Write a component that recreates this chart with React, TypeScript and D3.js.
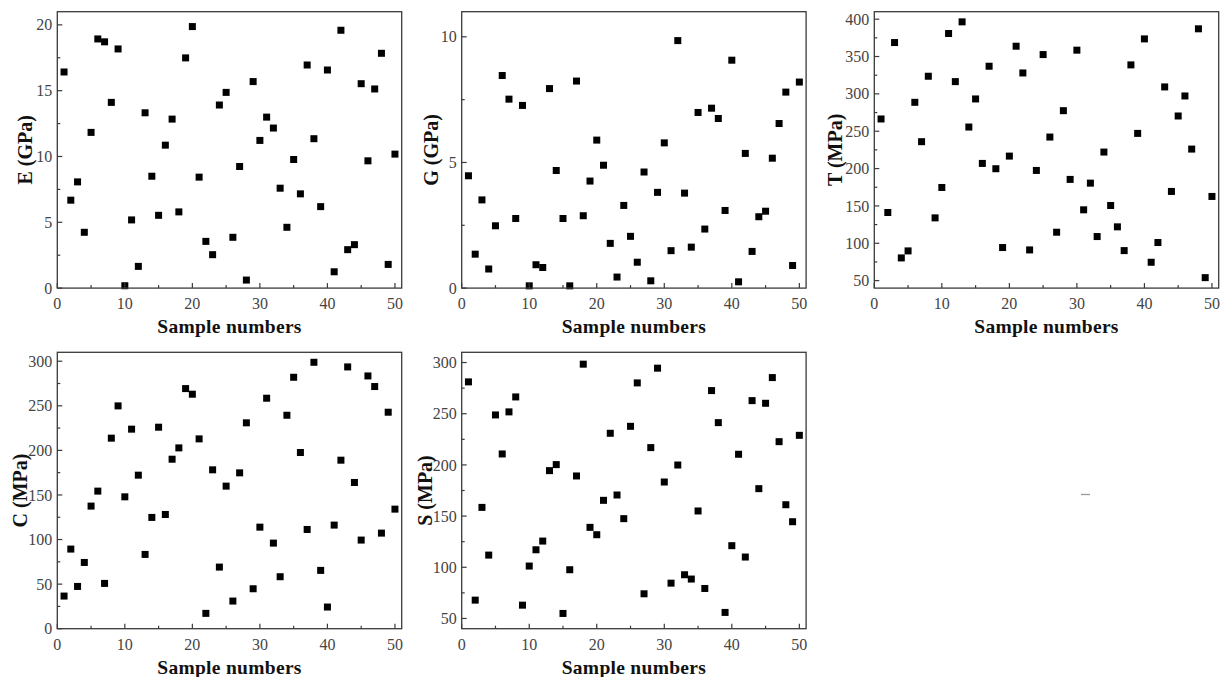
import React from 'react';
import * as d3 from 'd3';

const sampleNumbers = [1,2,3,4,5,6,7,8,9,10,11,12,13,14,15,16,17,18,19,20,21,22,23,24,25,26,27,28,29,30,31,32,33,34,35,36,37,38,39,40,41,42,43,44,45,46,47,48,49,50];

const E_GPa = [16.42,6.68,8.07,4.24,11.83,18.93,18.71,14.11,18.17,0.18,5.18,1.65,13.32,8.5,5.53,10.86,12.84,5.79,17.49,19.87,8.43,3.55,2.54,13.91,14.87,3.86,9.24,0.61,15.69,11.22,12.99,12.16,7.59,4.62,9.77,7.16,16.95,11.35,6.19,16.57,1.24,19.59,2.92,3.3,15.53,9.67,15.13,17.84,1.8,10.18];

const G_GPa = [4.47,1.35,3.51,0.76,2.48,8.46,7.52,2.77,7.27,0.09,0.93,0.82,7.94,4.68,2.77,0.09,8.24,2.88,4.26,5.89,4.89,1.78,0.44,3.29,2.06,1.03,4.62,0.29,3.81,5.78,1.49,9.85,3.78,1.63,6.99,2.35,7.16,6.75,3.09,9.07,0.25,5.36,1.46,2.84,3.06,5.17,6.55,7.8,0.9,8.2];

const T_MPa = [266.4,141.2,368.7,80.4,89.8,288.7,236.0,323.6,134.0,174.7,380.8,316.4,396.4,255.6,293.2,206.9,337.0,199.8,94.3,216.7,363.8,328.0,91.1,197.5,352.6,242.2,114.8,277.5,185.5,358.5,144.8,180.5,109.0,222.1,150.6,122.0,90.2,338.8,247.1,373.6,74.6,101.0,309.3,169.4,270.4,297.2,226.1,387.1,54.0,162.7];

const C_MPa = [36.6,89.3,47.4,74.3,137.5,154.3,50.8,213.7,249.9,147.9,223.8,172.2,83.3,124.8,226.0,128.1,190.1,202.8,269.3,263.0,212.9,17.2,178.2,69.1,159.9,31.0,174.8,230.9,44.8,113.9,258.5,96.0,58.3,239.4,282.0,197.6,111.3,298.8,65.4,24.3,116.2,189.0,293.6,164.0,99.4,283.5,271.6,107.2,242.8,134.1];

const S_MPa = [281.1,67.9,158.5,111.9,248.8,210.7,251.8,266.4,63.0,101.2,117.1,125.6,194.4,200.3,54.9,97.6,189.2,298.4,139.0,131.8,165.4,230.9,170.6,147.5,237.7,280.1,74.1,216.9,294.5,183.3,84.5,199.9,92.7,88.5,155.0,79.3,272.6,241.3,55.9,121.1,210.4,110.0,262.8,176.8,260.2,285.3,222.7,161.1,144.5,228.9];

const xTicks = [0, 10, 20, 30, 40, 50];
const xMinorTicks = [5, 15, 25, 35, 45];
const xTitle = 'Sample numbers';

const eTicks = [0, 5, 10, 15, 20];
const gTicks = [0, 5, 10];
const tTicks = [50, 100, 150, 200, 250, 300, 350, 400];
const cTicks = [0, 50, 100, 150, 200, 250, 300];
const sTicks = [50, 100, 150, 200, 250, 300];

const PW = 344.4;
const PH = 276.4;

const panels = [
  { label: 'E (GPa)', values: E_GPa, yDomain: [0, 21], yTicks: eTicks, yMinorStep: 2.5, left: 57.3, top: 11.7, titleOffset: 32 },
  { label: 'G (GPa)', values: G_GPa, yDomain: [0, 11], yTicks: gTicks, yMinorStep: 2.5, left: 461.7, top: 11.7, titleOffset: 31 },
  { label: 'T (MPa)', values: T_MPa, yDomain: [40, 410], yTicks: tTicks, yMinorStep: 25, left: 874.3, top: 11.7, titleOffset: 39 },
  { label: 'C (MPa)', values: C_MPa, yDomain: [0, 310], yTicks: cTicks, yMinorStep: 25, left: 57.3, top: 352.3, titleOffset: 37 },
  { label: 'S (MPa)', values: S_MPa, yDomain: [40, 310], yTicks: sTicks, yMinorStep: 25, left: 461.7, top: 352.3, titleOffset: 36.5 },
];

const SERIF = '"Liberation Serif", "Times New Roman", serif';
const AXIS = '#3a3a3a';
const TICKTXT = '#444';

function Panel({ p }: { p: typeof panels[number] }) {
  const x = d3.scaleLinear().domain([0, 51]).range([0, PW]);
  const y = d3.scaleLinear().domain(p.yDomain).range([PH, 0]);
  const step = p.yTicks[1] - p.yTicks[0];
  const minor: number[] = [];
  for (let v = p.yTicks[0] + p.yMinorStep; v < p.yDomain[1]; v += step) {
    if (v > p.yDomain[0]) minor.push(v);
  }
  if (p.yTicks[0] - p.yMinorStep > p.yDomain[0]) minor.push(p.yTicks[0] - p.yMinorStep);
  const sq = 7;
  return (
    <g transform={`translate(${p.left},${p.top})`}>
      {p.values.map((v, i) => (
        <rect key={i} x={x(sampleNumbers[i]) - sq / 2} y={y(v) - sq / 2} width={sq} height={sq} fill="#000" />
      ))}
      <rect x={0} y={0} width={PW} height={PH} fill="none" stroke={AXIS} strokeWidth={1.3} />
      {xTicks.map((t) => (
        <g key={'x' + t}>
          <line x1={x(t)} x2={x(t)} y1={PH} y2={PH - 5} stroke={AXIS} strokeWidth={1.2} />
          <text x={x(t)} y={PH + 21} textAnchor="middle" fontFamily={SERIF} fontSize={16} fill={TICKTXT}>{t}</text>
        </g>
      ))}
      {xMinorTicks.map((t) => (
        <line key={'xm' + t} x1={x(t)} x2={x(t)} y1={PH} y2={PH - 3} stroke={AXIS} strokeWidth={1.2} />
      ))}
      {p.yTicks.map((t) => (
        <g key={'y' + t}>
          <line x1={0} x2={5} y1={y(t)} y2={y(t)} stroke={AXIS} strokeWidth={1.2} />
          <text x={-5} y={y(t)} dy="0.35em" textAnchor="end" fontFamily={SERIF} fontSize={16} fill={TICKTXT}>{t}</text>
        </g>
      ))}
      {minor.map((t) => (
        <line key={'ym' + t} x1={0} x2={3} y1={y(t)} y2={y(t)} stroke={AXIS} strokeWidth={1.2} />
      ))}
      <text x={PW / 2} y={PH + 45} textAnchor="middle" fontFamily={SERIF} fontWeight="bold" fontSize={19.5} letterSpacing={0.3} fill="#111">{xTitle}</text>
      <text transform={`translate(${-p.titleOffset},${PH / 2}) rotate(-90)`} dy="0.35em" textAnchor="middle" fontFamily={SERIF} fontWeight="bold" fontSize={20} fill="#111">{p.label}</text>
    </g>
  );
}

export default function App() {
  return (
    <svg width={1223} height={677} style={{ position: 'absolute', left: 0, top: 0, background: '#fff' }}>
      <rect x={0} y={0} width={1223} height={677} fill="#fff" />
      {panels.map((p) => (
        <Panel key={p.label} p={p} />
      ))}
      <line x1={1081} x2={1090} y1={494.5} y2={494.5} stroke="#999" strokeWidth={1.3} />
    </svg>
  );
}
